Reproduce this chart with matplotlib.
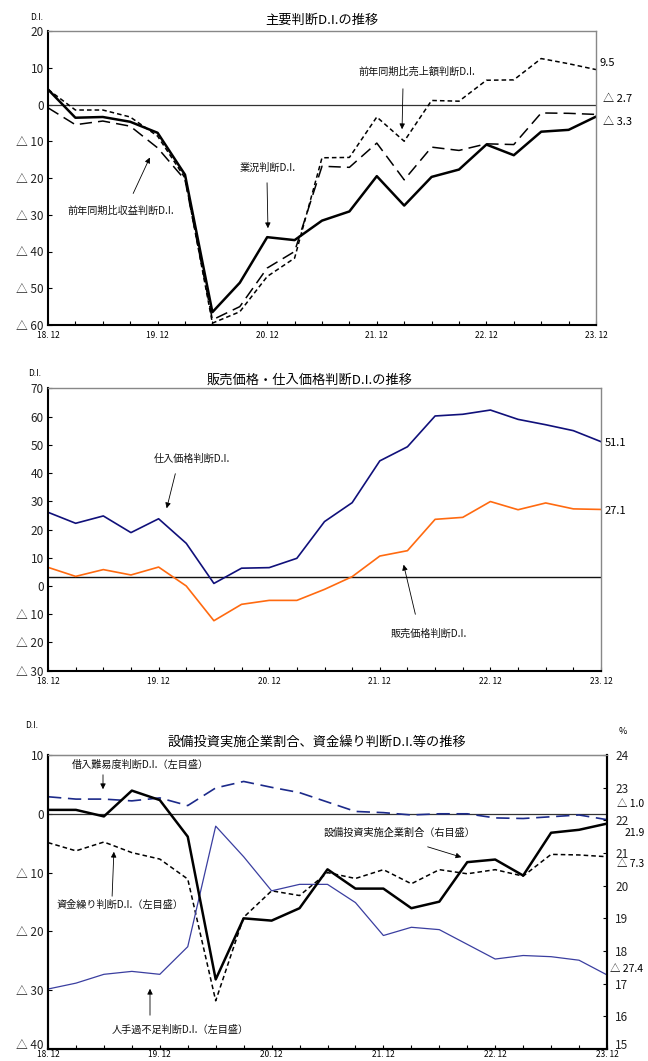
import matplotlib
matplotlib.use("Agg")
import matplotlib.pyplot as plt
import matplotlib.transforms as mtransforms
import numpy as np

plt.rcParams['font.family'] = ['Noto Sans CJK JP', 'DejaVu Sans']

W, H = 648, 1061

# Quarterly periods 2018.12 - 2023.12
periods = ["18.12", "19.03", "19.06", "19.09", "19.12", "20.03", "20.06", "20.09", "20.12",
           "21.03", "21.06", "21.09", "21.12", "22.03", "22.06", "22.09", "22.12",
           "23.03", "23.06", "23.09", "23.12"]
xtick_idx = [0, 4, 8, 12, 16, 20]
xtick_labels = ["18. 12", "19. 12", "20. 12", "21. 12", "22. 12", "23. 12"]

# Panel 1: main D.I.
business_di = [4.1, -3.6, -3.4, -4.7, -7.7, -19.1, -56.5, -48.5, -36.1, -36.9, -31.6,
               -29.1, -19.5, -27.5, -19.7, -17.7, -10.9, -13.8, -7.4, -6.9, -3.3]
sales_di = [4.1, -1.5, -1.5, -3.4, -8.6, -20.0, -59.5, -56.4, -46.8, -41.8, -14.5,
            -14.4, -3.4, -10.0, 1.1, 0.9, 6.6, 6.7, 12.5, 11.1, 9.5]
profit_di = [-0.9, -5.5, -4.5, -5.9, -11.8, -20.5, -58.6, -55.0, -44.5, -40.0, -16.8,
             -17.1, -10.5, -20.5, -11.6, -12.5, -10.7, -10.9, -2.3, -2.4, -2.7]

# Panel 2: price D.I.
purchase_price_di = [26.1, 22.2, 24.8, 18.9, 23.8, 15.1, 0.9, 6.3, 6.5, 9.8, 22.8,
                     29.5, 44.3, 49.3, 60.2, 60.8, 62.3, 59.0, 57.1, 55.0, 51.1]
selling_price_di = [6.6, 3.4, 5.8, 3.9, 6.7, 0.0, -12.3, -6.5, -5.1, -5.1, -1.2,
                    3.3, 10.6, 12.5, 23.6, 24.3, 29.9, 27.0, 29.4, 27.3, 27.1]

# Panel 3: investment ratio (right axis, %) and finance / labour D.I. (left axis)
borrowing_di = [2.9, 2.5, 2.5, 2.2, 2.7, 1.4, 4.4, 5.5, 4.5, 3.6, 2.0,
                0.4, 0.2, -0.2, 0.0, 0.0, -0.7, -0.8, -0.5, -0.2, -1.0]
cashflow_di = [-4.9, -6.3, -4.8, -6.6, -7.7, -11.1, -31.8, -17.6, -13.1, -13.9, -10.0,
               -11.0, -9.5, -11.9, -9.5, -10.2, -9.5, -10.6, -6.9, -7.0, -7.3]
labour_di = [-29.8, -28.8, -27.3, -26.8, -27.3, -22.6, -2.1, -7.3, -13.1, -12.0, -12.0,
             -15.1, -20.7, -19.3, -19.7, -22.2, -24.7, -24.1, -24.3, -24.9, -27.4]
invest_ratio = [22.32, 22.32, 22.12, 22.91, 22.62, 21.50, 17.13, 19.00, 18.93, 19.31, 20.50,
                19.91, 19.91, 19.31, 19.51, 20.72, 20.80, 20.31, 21.62, 21.71, 21.90]

x = np.arange(len(periods))


def fx(px):
    return px / W


def fy(py):
    return 1 - py / H


def di_label(v):
    if v < 0:
        return "△ {:g}".format(abs(v))
    return "{:g}".format(v)


def di_value_label(v):
    if v < 0:
        return "△ {:.1f}".format(abs(v))
    return "{:.1f}".format(v)


def style_axes(ax, yticks, right_gray=True, xpad=4.5):
    ax.set_xlim(0, 20)
    ax.set_xticks(x, minor=True)
    ax.set_xticks(xtick_idx)
    ax.set_xticklabels(xtick_labels, fontsize=6)
    ax.set_yticks(yticks)
    ax.set_yticklabels([di_label(v) for v in yticks], fontsize=8.5, color='#222222')
    ax.tick_params(axis='x', which='both', direction='in', length=3, width=0.8, pad=xpad)
    ax.tick_params(axis='y', direction='in', length=3, width=0.8, pad=3)
    ax.spines['left'].set_linewidth(1.5)
    ax.spines['bottom'].set_linewidth(1.5)
    ax.spines['top'].set_color('#888888')
    ax.spines['top'].set_linewidth(1.0)
    if right_gray:
        ax.spines['right'].set_color('#888888')
        ax.spines['right'].set_linewidth(1.0)


def lift_lowest_label(ax, px=5):
    # nudge the bottom y tick label up so it clears the first x tick label
    lbl = ax.get_yticklabels()[0]
    lbl.set_transform(lbl.get_transform() +
                      mtransforms.ScaledTranslation(0, px / 100, fig.dpi_scale_trans))


def note(text, tx, ty, ax_from, ay_from, ax_to, ay_to, ha='center'):
    fig.text(fx(tx), fy(ty), text, fontsize=7.3, ha=ha, va='center', color='#111111')
    fig.add_artist(matplotlib.patches.FancyArrowPatch(
        (fx(ax_from), fy(ay_from)), (fx(ax_to), fy(ay_to)),
        transform=fig.transFigure, arrowstyle='-|>', mutation_scale=8,
        lw=0.6, color='black'))


fig = plt.figure(figsize=(W / 100, H / 100), dpi=100)

# ---------------- Panel 1 ----------------
ax1 = fig.add_axes([fx(48), fy(325), (596 - 48) / W, (325 - 31) / H])
ax1.axhline(0, color='#333333', lw=0.9)
ax1.plot(x, sales_di, color='black', lw=1.1, dashes=(3, 2))
ax1.plot(x, profit_di, color='black', lw=1.1, dashes=(8, 4))
ax1.plot(x, business_di, color='black', lw=1.8)
ax1.set_ylim(-60, 20)
style_axes(ax1, list(range(-60, 21, 10)))

fig.text(fx(322), fy(20), "主要判断D.I.の推移", fontsize=9.5, ha='center', va='center')
fig.text(fx(37), fy(18), "D.I.", fontsize=6, ha='center', va='center')
fig.text(fx(600), fy(63), di_value_label(sales_di[-1]), fontsize=8, ha='left', va='center')
fig.text(fx(603), fy(99), di_value_label(profit_di[-1]), fontsize=8, ha='left', va='center')
fig.text(fx(603), fy(122), di_value_label(business_di[-1]), fontsize=8, ha='left', va='center')

note("前年同期比収益判断D.I.", 121, 211, 132, 196, 151, 155)
note("業況判断D.I.", 268, 168, 267, 180, 268, 231)
note("前年同期比売上額判断D.I.", 417, 72, 403, 86, 402, 132)

# ---------------- Panel 2 ----------------
ax2 = fig.add_axes([fx(48), fy(670.7), (601 - 48) / W, (670.7 - 388.3) / H])
ax2.axhline(3.2, color='#111111', lw=1.0)
ax2.plot(x, purchase_price_di, color='#10107a', lw=1.2)
ax2.plot(x, selling_price_di, color='#ff6a10', lw=1.2)
ax2.set_ylim(-30, 70)
style_axes(ax2, list(range(-30, 71, 10)))

fig.text(fx(310), fy(380), "販売価格・仕入価格判断D.I.の推移", fontsize=9.5, ha='center', va='center')
fig.text(fx(35), fy(374), "D.I.", fontsize=6, ha='center', va='center')
fig.text(fx(605), fy(443), "{:.1f}".format(purchase_price_di[-1]), fontsize=8, ha='left', va='center')
fig.text(fx(605), fy(511), "{:.1f}".format(selling_price_di[-1]), fontsize=8, ha='left', va='center')

note("仕入価格判断D.I.", 192, 459, 176, 471, 166, 511)
note("販売価格判断D.I.", 429, 634, 416, 617, 403, 562)

# ---------------- Panel 3 ----------------
ax3 = fig.add_axes([fx(48), fy(1049), (607 - 48) / W, (1049 - 755) / H])
ax3.axhline(0, color='#333333', lw=0.9)
ax3.plot(x, borrowing_di, color='#1c2a8a', lw=1.2, dashes=(8, 4))
ax3.plot(x, cashflow_di, color='black', lw=1.1, dashes=(3, 2))
ax3.plot(x, labour_di, color='#3a3ea0', lw=0.9)
ax3.set_ylim(-40, 10)
style_axes(ax3, list(range(-40, 11, 10)), right_gray=False, xpad=0.8)
ax3.spines['right'].set_linewidth(1.5)

ax3r = ax3.twinx()
ax3r.plot(x, invest_ratio, color='black', lw=1.8)
ax3r.set_ylim(15, 24)
ax3r.set_yticks(list(range(15, 25)))
ax3r.set_yticklabels([str(v) for v in range(15, 25)], fontsize=8.5, color='#222222')
ax3r.tick_params(axis='y', direction='in', length=3, width=0.8, pad=6)
ax3r.spines['right'].set_linewidth(1.5)
ax3r.spines['top'].set_color('#888888')
ax3r.spines['left'].set_linewidth(1.5)
ax3r.spines['bottom'].set_linewidth(1.5)

lift_lowest_label(ax3, 5)
lift_lowest_label(ax3r, 5)

fig.text(fx(317), fy(742), "設備投資実施企業割合、資金繰り判断D.I.等の推移", fontsize=9.5,
         ha='center', va='center')
fig.text(fx(32), fy(726), "D.I.", fontsize=6, ha='center', va='center')
fig.text(fx(623), fy(732), "%", fontsize=6.5, ha='center', va='center')
fig.text(fx(617), fy(804), di_value_label(borrowing_di[-1]), fontsize=7.5, ha='left', va='center')
fig.text(fx(625), fy(833), "{:.1f}".format(invest_ratio[-1]), fontsize=7.5, ha='left', va='center')
fig.text(fx(617), fy(864), di_value_label(cashflow_di[-1]), fontsize=7.5, ha='left', va='center')
fig.text(fx(610), fy(969), di_value_label(labour_di[-1]), fontsize=7.5, ha='left', va='center')

note("借入難易度判断D.I.（左目盛）", 140, 765, 103, 772, 103, 792)
note("資金繰り判断D.I.（左目盛）", 120, 905, 112, 899, 114, 849)
note("人手過不足判断D.I.（左目盛）", 180, 1030, 150, 1018, 150, 986)
note("設備投資実施企業割合（右目盛）", 400, 833, 425, 846, 464, 858)

fig.savefig("out.png", dpi=100)
